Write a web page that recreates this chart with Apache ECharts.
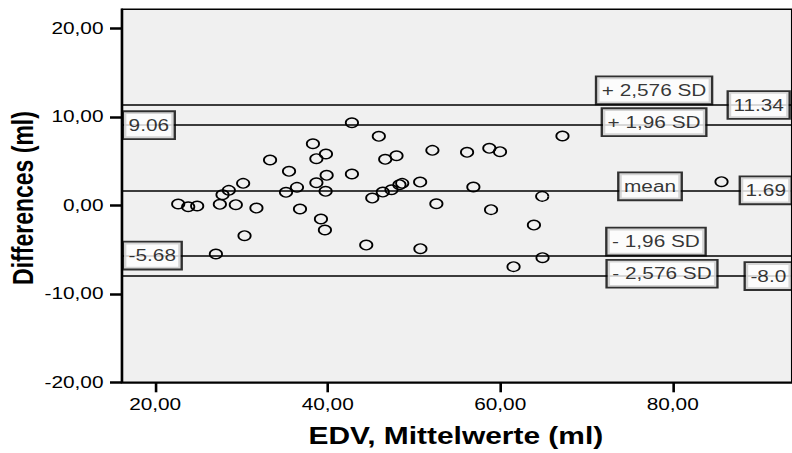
<!DOCTYPE html>
<html><head><meta charset="utf-8">
<script src="https://cdn.jsdelivr.net/npm/echarts@6/dist/echarts.min.js"></script>
<style>
html,body{margin:0;padding:0;background:#fff;overflow:hidden;width:792px;height:453px}
#main{width:609px;height:453px;transform:scaleX(1.30049);transform-origin:0 0}
</style>
</head><body><div id="main"></div>
<script>
// ---- data ----
const meanValues = [22.67,23.83,24.87,27.5,27.81,28.54,29.35,30.2,31.74,27.04,30.36,33.32,35.52,35.17,36.44,36.79,38.29,38.69,39.8,39.88,38.69,39.76,39.22,39.68,42.81,42.81,45.93,46.67,47.98,45.17,46.39,47.4,48.32,48.64,44.47,50.72,50.75,52.14,52.6,56.16,58.74,59.98,56.89,58.94,67.22,64.87,63.91,64.91,61.55,85.66];
const differences = [0.15,-0.16,-0.08,0.11,1.2,1.69,0.07,2.48,-0.31,-5.5,-3.43,5.12,3.84,1.47,2.03,-0.42,6.96,5.27,5.8,3.39,2.55,1.58,-1.55,-2.79,9.33,3.54,7.8,5.2,5.6,0.82,1.5,1.76,2.33,2.48,-4.49,2.63,-4.9,6.21,0.18,5.99,6.44,6.06,2.07,-0.49,7.83,1.01,-2.23,-5.92,-6.93,2.67];
const xTicks = [20, 40, 60, 80];
const yTicks = [-20, -10, 0, 10, 20];
const limitNames = ['+ 2,576 SD', '+ 1,96 SD', 'mean', '- 1,96 SD', '- 2,576 SD'];
const limitValues = [11.34, 9.06, 1.69, -5.68, -8.0];
const valueLabelText = ['11.34', '9.06', '1.69', '-5.68', '-8.0'];
const xTitle = 'EDV, Mittelwerte (ml)';
const yTitle = 'Differences (ml)';

// ---- layout (label anchors, not data) ----
const layout = {
  xMin: 16.12, xMax: 93.83, yMin: -20, yMax: 22.15,
  nameX: [77.84, 77.84, 77.37, 78.06, 78.76],
  nameDy: [-14.6, -3, -4, -14, -2.3],
  valueX: [86.51, 16.39, 87.91, 16.39, 88.48]
};

const font = 'Liberation Sans';
const fmt = v => v.toFixed(2).replace('.', ',');
const boxLabel = {
  show: true, position: 'inside', color: '#000', fontFamily: font, fontSize: 16,
  backgroundColor: '#fff', borderColor: '#000', borderWidth: 1.8,
  padding: [4, 3.5, 4, 3.5], lineHeight: 18
};

const points = meanValues.map((x, i) => [x, differences[i]]);

const option = {
  animation: false,
  grid: {
    show: true, left: 93.58, top: 9.3, right: -1, bottom: 70.7,
    backgroundColor: '#f0f0f0', borderColor: '#000', borderWidth: 1.6
  },
  xAxis: {
    type: 'value', min: layout.xMin, max: layout.xMax,
    splitLine: { show: false },
    axisLine: { show: true, onZero: false, lineStyle: { color: '#000', width: 1.6 } },
    axisTick: { show: true, length: 10, customValues: xTicks, lineStyle: { color: '#000', width: 2 } },
    axisLabel: { customValues: xTicks, formatter: fmt, margin: 14, color: '#000', fontFamily: font, fontSize: 16 }
  },
  yAxis: {
    type: 'value', min: layout.yMin, max: layout.yMax,
    splitLine: { show: false },
    axisLine: { show: true, onZero: false, lineStyle: { color: '#000', width: 1.6 } },
    axisTick: { show: true, length: 9, customValues: yTicks, lineStyle: { color: '#000', width: 2.5 } },
    axisLabel: { customValues: yTicks, formatter: fmt, margin: 14, color: '#000', fontFamily: font, fontSize: 16 }
  },
  graphic: [
    { type: 'text', x: 17.3, y: 198, rotation: Math.PI / 2,
      style: { text: yTitle, font: 'bold 23px "Liberation Sans"', fill: '#000', textAlign: 'center', textVerticalAlign: 'middle' } },
    { type: 'text', x: 350.5, y: 436,
      style: { text: xTitle, font: 'bold 23px "Liberation Sans"', fill: '#000', textAlign: 'center', textVerticalAlign: 'middle' } }
  ],
  series: [
    {
      type: 'scatter', data: points, symbol: 'circle', symbolSize: 9.5, z: 3,
      itemStyle: { color: 'rgba(0,0,0,0)', borderColor: '#000', borderWidth: 1.4, opacity: 1 },
      emphasis: { disabled: true },
      markLine: {
        silent: true, symbol: ['none', 'none'], label: { show: false },
        lineStyle: { color: '#000', width: 1.7, type: 'solid' },
        emphasis: { disabled: true },
        data: limitValues.map(v => ({ yAxis: v }))
      }
    },
    {
      type: 'scatter', symbol: 'circle', symbolSize: 0, z: 5, silent: true,
      data: limitValues.map((v, i) => ({
        name: limitNames[i], value: [layout.nameX[i], v],
        label: Object.assign({}, boxLabel, { offset: [0, layout.nameDy[i]] })
      })),
      label: Object.assign({}, boxLabel, { formatter: p => p.name })
    },
    {
      type: 'scatter', symbol: 'circle', symbolSize: 0, z: 5, silent: true,
      data: limitValues.map((v, i) => ({
        name: valueLabelText[i], value: [layout.valueX[i], v],
        label: Object.assign({}, boxLabel, { align: 'left' })
      })),
      label: Object.assign({}, boxLabel, { formatter: p => p.name, align: 'left' })
    }
  ]
};

const chart = echarts.init(document.getElementById('main'), null, { renderer: 'svg' });
chart.setOption(option);
</script>
</body></html>
